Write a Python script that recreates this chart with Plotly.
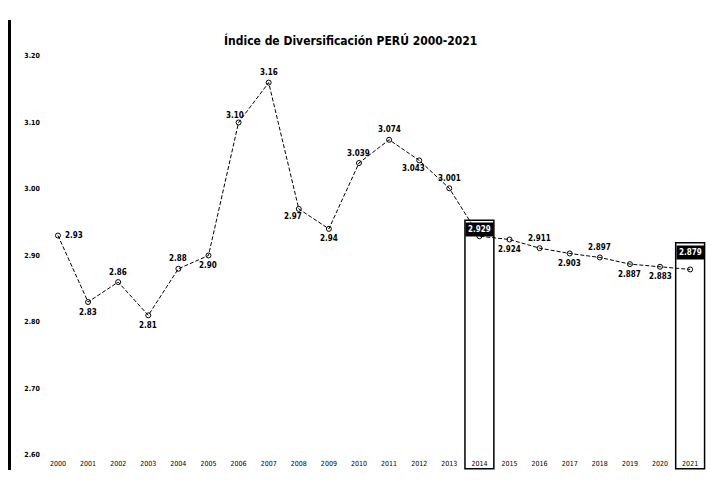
import plotly.graph_objects as go

years = list(range(2000, 2022))
values = [2.93, 2.83, 2.86, 2.81, 2.88, 2.90, 3.10, 3.16, 2.97, 2.94,
          3.039, 3.074, 3.043, 3.001, 2.929, 2.924, 2.911, 2.903, 2.897,
          2.887, 2.883, 2.879]
label_pos = ["r", "b", "t", "b", "t", "b", "tl", "t", "bl", "b",
             "t", "t", "bl", "t", "box", "b", "t", "b", "t", "b", "b", "box"]
highlight_years = [2014, 2021]
y_ticks = [2.60, 2.70, 2.80, 2.90, 3.00, 3.10, 3.20]
title_text = "<b>Índice de Diversificación PERÚ 2000-2021</b>"

W, H = 710, 481
left, top, bottom = 11, 20, 11
x_rng = [1998.44, 2021.66]
y_rng = [2.5774, 3.2541]

fig = go.Figure()
fig.add_trace(go.Scatter(
    x=years, y=values, mode="lines+markers",
    line=dict(color="black", width=1, dash="4px,2px"),
    marker=dict(symbol="circle-open", size=5, color="black", line=dict(width=1)),
    hoverinfo="skip", showlegend=False))

fnt = dict(family="Liberation Sans Narrow, Arial Narrow, DejaVu Sans Condensed, sans-serif",
           size=8, color="black")
shifts = {"r": (16, 0), "b": (0, -10), "t": (0, 10), "tl": (-4, 7), "bl": (-6, -8)}
annotations = []
shapes = []
for yr, v, p in zip(years, values, label_pos):
    txt = f"<b>{v:.2f}</b>" if yr < 2010 else f"<b>{v:.3f}</b>"
    if p == "box":
        top_y = v + 0.024 if yr == 2014 else v + 0.040
        shapes.append(dict(type="rect", xref="x", yref="y", x0=yr - 0.48, x1=yr + 0.48,
                           y0=y_rng[0] + 0.002, y1=top_y,
                           line=dict(color="black", width=1.5), fillcolor="rgba(0,0,0,0)"))
        annotations.append(dict(x=yr, y=top_y - 0.014, xref="x", yref="y", text=txt,
                                showarrow=False, bgcolor="black",
                                font=dict(fnt, color="white"), borderpad=2))
    else:
        dx, dy = shifts[p]
        annotations.append(dict(x=yr, y=v, xref="x", yref="y", text=txt, showarrow=False,
                                xshift=dx, yshift=dy, font=fnt))

fig.update_layout(
    width=W, height=H,
    margin=dict(l=left, r=0, t=top, b=bottom, autoexpand=False),
    paper_bgcolor="white", plot_bgcolor="white",
    title=dict(text=title_text, x=345 / W, xref="paper", xanchor="center",
               y=1 - 41 / H, yanchor="middle",
               font=dict(family="Liberation Sans Narrow, Arial Narrow, DejaVu Sans Condensed, sans-serif",
                         size=12, color="black")),
    xaxis=dict(range=x_rng, tickmode="array", tickvals=years, automargin=False,
               ticktext=[str(y) for y in years], showgrid=False, zeroline=False,
               showline=False, ticks="", ticklabelposition="inside",
               tickfont=dict(family=fnt["family"], size=7, color="black")),
    yaxis=dict(range=y_rng, tickmode="array", tickvals=y_ticks, automargin=False,
               ticktext=[f"<b>{t:.2f}</b>" for t in y_ticks], showgrid=False,
               zeroline=False, showline=True, linecolor="black", linewidth=2.5,
               ticks="", ticklabelposition="inside", ticklabelstandoff=12,
               tickfont=dict(family=fnt["family"], size=7, color="black")),
    annotations=annotations, shapes=shapes,
)

fig.write_html("out.html", config={"displayModeBar": False},
               post_script="document.body.style.margin='0';document.body.style.overflow='hidden';")
